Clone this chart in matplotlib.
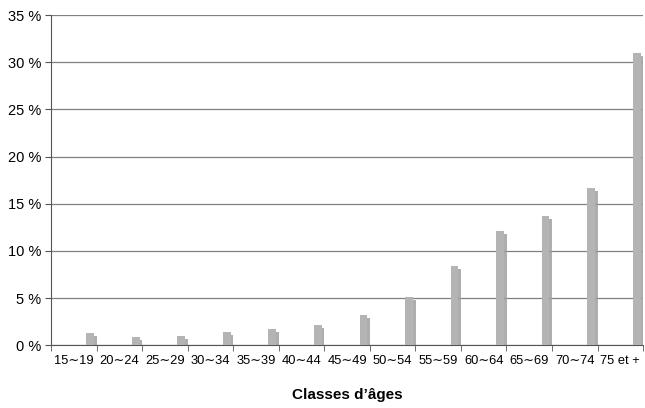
"Repartition par classes d'ages"

import numpy as np
import matplotlib.pyplot as plt

plt.rcParams['font.family'] = ['Liberation Sans', 'DejaVu Sans']

# classes d'ages et parts (en %)
classes = ['15∼19', '20∼24', '25∼29', '30∼34', '35∼39', '40∼44', '45∼49',
           '50∼54', '55∼59', '60∼64', '65∼69', '70∼74', '75 et +']
parts = [1.3, 0.9, 1.0, 1.4, 1.7, 2.1, 3.2, 5.1, 8.4, 12.1, 13.7, 16.7, 31.0]
yticks = [0, 5, 10, 15, 20, 25, 30, 35]

fig = plt.figure(figsize=(6.45, 4.08), dpi=100)
ax = fig.add_axes([0.079, 0.154, 0.918, 0.809])

x = np.arange(len(classes))
off = 0.36
w = 0.17

# ombre puis barre
ax.bar(x + off + 0.06, np.array(parts) - 0.3, width=w, color='#a0a0a0',
       alpha=0.85, zorder=2)
ax.bar(x + off, parts, width=w, color='#b4b4b4', zorder=3)

ax.set_xlim(-0.5, len(classes) - 0.5)
ax.set_ylim(0, 35)
ax.set_yticks(yticks)
ax.set_yticklabels([f'{v} %' for v in yticks], fontsize=10.5)
ax.set_xticks(x)
ax.set_xticklabels(classes, fontsize=9.3)
ax.set_xticks(np.arange(len(classes) + 1) - 0.5, minor=True)
ax.tick_params(axis='x', which='major', length=0, pad=7)
ax.tick_params(axis='x', which='minor', length=4, color='#555555')
ax.tick_params(axis='y', length=4, color='#555555', pad=3)

ax.yaxis.grid(True, color='#808080', linewidth=0.9, zorder=0)
ax.set_axisbelow(True)
for s in ['top', 'right']:
    ax.spines[s].set_visible(False)
for s in ['left', 'bottom']:
    ax.spines[s].set_color('#555555')

ax.set_xlabel("Classes d’âges", fontsize=11, fontweight='bold', labelpad=15)

fig.savefig('out.png', dpi=100)
